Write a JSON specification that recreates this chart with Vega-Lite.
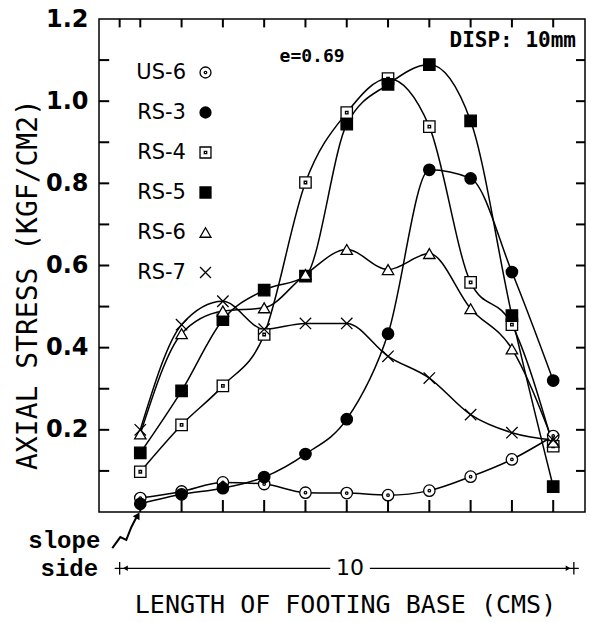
{
  "$schema": "https://vega.github.io/schema/vega-lite/v6.json",
  "width": 486,
  "height": 493,
  "autosize": "none",
  "padding": {"left": 99, "top": 19, "right": 6, "bottom": 110},
  "background": "white",
  "config": {
    "view": {"stroke": "black", "strokeWidth": 1.5},
    "axis": {"grid": false, "domain": false, "ticks": false}
  },
  "datasets": {
    "stress": [
      {"series": "US-6", "x": 0, "y": 0.034}, {"series": "US-6", "x": 1, "y": 0.05}, {"series": "US-6", "x": 2, "y": 0.072}, {"series": "US-6", "x": 3, "y": 0.068}, {"series": "US-6", "x": 4, "y": 0.047}, {"series": "US-6", "x": 5, "y": 0.046}, {"series": "US-6", "x": 6, "y": 0.041}, {"series": "US-6", "x": 7, "y": 0.052}, {"series": "US-6", "x": 8, "y": 0.086}, {"series": "US-6", "x": 9, "y": 0.128}, {"series": "US-6", "x": 10, "y": 0.185},
      {"series": "RS-3", "x": 0, "y": 0.02}, {"series": "RS-3", "x": 1, "y": 0.043}, {"series": "RS-3", "x": 2, "y": 0.058}, {"series": "RS-3", "x": 3, "y": 0.085}, {"series": "RS-3", "x": 4, "y": 0.141}, {"series": "RS-3", "x": 5, "y": 0.226}, {"series": "RS-3", "x": 6, "y": 0.434}, {"series": "RS-3", "x": 7, "y": 0.833}, {"series": "RS-3", "x": 8, "y": 0.812}, {"series": "RS-3", "x": 9, "y": 0.584}, {"series": "RS-3", "x": 10, "y": 0.32},
      {"series": "RS-4", "x": 0, "y": 0.098}, {"series": "RS-4", "x": 1, "y": 0.212}, {"series": "RS-4", "x": 2, "y": 0.307}, {"series": "RS-4", "x": 3, "y": 0.432}, {"series": "RS-4", "x": 4, "y": 0.802}, {"series": "RS-4", "x": 5, "y": 0.972}, {"series": "RS-4", "x": 6, "y": 1.055}, {"series": "RS-4", "x": 7, "y": 0.938}, {"series": "RS-4", "x": 8, "y": 0.559}, {"series": "RS-4", "x": 9, "y": 0.456}, {"series": "RS-4", "x": 10, "y": 0.16},
      {"series": "RS-5", "x": 0, "y": 0.144}, {"series": "RS-5", "x": 1, "y": 0.295}, {"series": "RS-5", "x": 2, "y": 0.468}, {"series": "RS-5", "x": 3, "y": 0.54}, {"series": "RS-5", "x": 4, "y": 0.574}, {"series": "RS-5", "x": 5, "y": 0.944}, {"series": "RS-5", "x": 6, "y": 1.041}, {"series": "RS-5", "x": 7, "y": 1.089}, {"series": "RS-5", "x": 8, "y": 0.952}, {"series": "RS-5", "x": 9, "y": 0.478}, {"series": "RS-5", "x": 10, "y": 0.062},
      {"series": "RS-6", "x": 0, "y": 0.19}, {"series": "RS-6", "x": 1, "y": 0.434}, {"series": "RS-6", "x": 2, "y": 0.489}, {"series": "RS-6", "x": 3, "y": 0.497}, {"series": "RS-6", "x": 4, "y": 0.578}, {"series": "RS-6", "x": 5, "y": 0.639}, {"series": "RS-6", "x": 6, "y": 0.59}, {"series": "RS-6", "x": 7, "y": 0.629}, {"series": "RS-6", "x": 8, "y": 0.495}, {"series": "RS-6", "x": 9, "y": 0.397}, {"series": "RS-6", "x": 10, "y": 0.17},
      {"series": "RS-7", "x": 0, "y": 0.2}, {"series": "RS-7", "x": 1, "y": 0.456}, {"series": "RS-7", "x": 2, "y": 0.513}, {"series": "RS-7", "x": 3, "y": 0.445}, {"series": "RS-7", "x": 4, "y": 0.459}, {"series": "RS-7", "x": 5, "y": 0.459}, {"series": "RS-7", "x": 6, "y": 0.379}, {"series": "RS-7", "x": 7, "y": 0.326}, {"series": "RS-7", "x": 8, "y": 0.237}, {"series": "RS-7", "x": 9, "y": 0.193}, {"series": "RS-7", "x": 10, "y": 0.175}
    ]
  },
  "resolve": {"axis": {"x": "independent", "y": "independent"}},
  "layer": [
    {
      "data": {"name": "stress"},
      "mark": {"type": "line", "interpolate": "monotone", "color": "black", "strokeWidth": 1.5},
      "encoding": {
        "x": {"field": "x", "type": "quantitative", "scale": {"domain": [-1, 10.77], "nice": false, "zero": false},
          "axis": {"orient": "bottom", "labels": false, "values": [],
            "title": "LENGTH OF FOOTING BASE (CMS)", "titleFont": "DejaVu Sans Mono", "titleFontSize": 25, "titleFontWeight": "normal",
            "titleColor": "black", "titleBaseline": "middle", "titleY": 92, "titleX": 246}},
        "y": {"field": "y", "type": "quantitative", "scale": {"domain": [0, 1.2], "nice": false, "zero": false},
          "axis": {"orient": "left", "values": [0.2,0.4,0.6,0.8,1.0,1.2], "format": ".1f",
            "labelFont": "DejaVu Sans", "labelFontSize": 24, "labelFontWeight": "bold", "labelColor": "black", "labelPadding": 11,
            "title": "AXIAL STRESS (KGF/CM2)", "titleFont": "DejaVu Sans Mono", "titleFontSize": 28, "titleFontWeight": "normal",
            "titleColor": "black", "titleX": -71, "titleY": 265, "titleAngle": 270, "titleBaseline": "middle", "titleAlign": "center"}},
        "detail": {"field": "series"}
      }
    },
    {
      "data": {"name": "stress"},
      "mark": {"type": "point", "filled": true, "strokeWidth": 1.3, "size": 130, "opacity": 1},
      "encoding": {
        "x": {"field": "x", "type": "quantitative", "axis": null},
        "y": {"field": "y", "type": "quantitative", "axis": null},
        "shape": {"field": "series", "type": "nominal",
          "scale": {"domain": ["US-6","RS-3","RS-4","RS-5","RS-6","RS-7"],
            "range": ["M-1,0A1,1,0,1,1,1,0A1,1,0,1,1,-1,0Z M-0.22,0A0.22,0.22,0,1,1,0.22,0A0.22,0.22,0,1,1,-0.22,0Z", "circle", "M-1,-1H1V1H-1Z M-0.22,-0.22H0.22V0.22H-0.22Z", "square", "triangle-up", "M-1,-1L1,1M-1,1L1,-1"]},
          "legend": {"title": null, "orient": "none", "legendX": 96, "legendY": 43, "labelAlign": "right", "labelOffset": -30,
            "labelFont": "DejaVu Sans", "labelFontSize": 21, "labelColor": "black", "rowPadding": 18, "symbolSize": 120, "symbolStrokeWidth": 1.3}},
        "fill": {"field": "series", "type": "nominal",
          "scale": {"domain": ["US-6","RS-3","RS-4","RS-5","RS-6","RS-7"], "range": ["white","black","white","black","white","white"]},
          "legend": {"title": null, "orient": "none", "legendX": 96, "legendY": 43, "labelAlign": "right", "labelOffset": -30,
            "labelFont": "DejaVu Sans", "labelFontSize": 21, "labelColor": "black", "rowPadding": 18, "symbolSize": 120, "symbolStrokeWidth": 1.3}},
        "stroke": {"field": "series", "type": "nominal",
          "scale": {"domain": ["US-6","RS-3","RS-4","RS-5","RS-6","RS-7"], "range": ["black","black","black","black","black","black"]},
          "legend": {"title": null, "orient": "none", "legendX": 96, "legendY": 43, "labelAlign": "right", "labelOffset": -30,
            "labelFont": "DejaVu Sans", "labelFontSize": 21, "labelColor": "black", "rowPadding": 18, "symbolSize": 120, "symbolStrokeWidth": 1.3}}
      }
    },
    {
      "data": {"values": [{"label": "e=0.69", "x": 4.16, "y": 1.107}]},
      "mark": {"type": "text", "font": "DejaVu Sans Mono", "fontSize": 18, "fontWeight": "bold", "color": "black", "baseline": "middle", "align": "center"},
      "encoding": {"x": {"field": "x", "type": "quantitative", "axis": null}, "y": {"field": "y", "type": "quantitative", "axis": null}, "text": {"field": "label"}}
    },
    {
      "data": {"values": [{"label": "DISP: 10mm", "x": 9.02, "y": 1.146}]},
      "mark": {"type": "text", "font": "DejaVu Sans Mono", "fontSize": 21, "fontWeight": "bold", "color": "black", "baseline": "middle", "align": "center"},
      "encoding": {"x": {"field": "x", "type": "quantitative", "axis": null}, "y": {"field": "y", "type": "quantitative", "axis": null}, "text": {"field": "label"}}
    },
    {
      "data": {"values": [{"label": "slope", "x": -1.84, "y": -0.071}, {"label": "side", "x": -1.72, "y": -0.139}]},
      "mark": {"type": "text", "font": "Liberation Mono", "fontSize": 24, "fontWeight": "bold", "color": "black", "baseline": "middle", "align": "center"},
      "encoding": {"x": {"field": "x", "type": "quantitative", "axis": null}, "y": {"field": "y", "type": "quantitative", "axis": null}, "text": {"field": "label"}}
    },
    {
      "data": {"values": [{"label": "10", "x": 5.08, "y": -0.137}]},
      "mark": {"type": "text", "font": "DejaVu Sans", "fontSize": 22, "color": "black", "baseline": "middle", "align": "center"},
      "encoding": {"x": {"field": "x", "type": "quantitative", "axis": null}, "y": {"field": "y", "type": "quantitative", "axis": null}, "text": {"field": "label"}}
    },
    {
      "data": {"values": [{"x": -0.62, "x2": 4.6, "y": -0.137}, {"x": 5.56, "x2": 10.62, "y": -0.137}]},
      "mark": {"type": "rule", "color": "black", "strokeWidth": 1.3},
      "encoding": {"x": {"field": "x", "type": "quantitative", "axis": null}, "x2": {"field": "x2"}, "y": {"field": "y", "type": "quantitative", "axis": null}}
    },
    {
      "data": {"values": [{"x": -0.5, "y": -0.137}, {"x": 10.5, "y": -0.137}]},
      "mark": {"type": "point", "shape": "M0,-1L0,1", "filled": false, "stroke": "black", "strokeWidth": 1.3, "size": 160, "opacity": 1},
      "encoding": {"x": {"field": "x", "type": "quantitative", "axis": null}, "y": {"field": "y", "type": "quantitative", "axis": null}}
    },
    {
      "data": {"values": [{"x": -0.36, "y": -0.137}]},
      "mark": {"type": "point", "shape": "triangle-left", "filled": true, "color": "black", "size": 30, "opacity": 1},
      "encoding": {"x": {"field": "x", "type": "quantitative", "axis": null}, "y": {"field": "y", "type": "quantitative", "axis": null}}
    },
    {
      "data": {"values": [{"x": 10.36, "y": -0.137}]},
      "mark": {"type": "point", "shape": "triangle-right", "filled": true, "color": "black", "size": 30, "opacity": 1},
      "encoding": {"x": {"field": "x", "type": "quantitative", "axis": null}, "y": {"field": "y", "type": "quantitative", "axis": null}}
    },
    {
      "data": {"values": [{"i": 0, "x": -0.678, "y": -0.088}, {"i": 1, "x": -0.484, "y": -0.061}, {"i": 2, "x": -0.339, "y": -0.068}, {"i": 3, "x": -0.218, "y": -0.037}, {"i": 4, "x": -0.1, "y": -0.014}]},
      "mark": {"type": "line", "color": "black", "strokeWidth": 2},
      "encoding": {"x": {"field": "x", "type": "quantitative", "axis": null}, "y": {"field": "y", "type": "quantitative", "axis": null}, "order": {"field": "i"}}
    },
    {
      "data": {"values": [{"x": -0.06, "y": -0.008}]},
      "mark": {"type": "point", "shape": "triangle-up", "filled": true, "color": "black", "size": 60, "angle": 30, "opacity": 1},
      "encoding": {"x": {"field": "x", "type": "quantitative", "axis": null}, "y": {"field": "y", "type": "quantitative", "axis": null}}
    },
    {
      "data": {"values": [
        {"pos": 0}, {"pos": 1}, {"pos": 2}, {"pos": 3}, {"pos": 4}, {"pos": 5}, {"pos": 6}, {"pos": 7}, {"pos": 8}, {"pos": 9}, {"pos": 10}
      ]},
      "mark": {"type": "point", "shape": "M0,0L0,-2", "filled": false, "stroke": "black", "strokeWidth": 2, "size": 144, "opacity": 1},
      "encoding": {"x": {"field": "pos", "type": "quantitative", "axis": null}, "y": {"datum": 0, "type": "quantitative", "axis": null}}
    },
    {
      "data": {"values": [
        {"pos": -0.5}, {"pos": 0}, {"pos": 1}, {"pos": 2}, {"pos": 3}, {"pos": 4}, {"pos": 5}, {"pos": 6}, {"pos": 7}, {"pos": 8}, {"pos": 9}, {"pos": 10}
      ]},
      "mark": {"type": "point", "shape": "M0,0L0,1.4", "filled": false, "stroke": "black", "strokeWidth": 2, "size": 144, "opacity": 1},
      "encoding": {"x": {"field": "pos", "type": "quantitative", "axis": null}, "y": {"datum": 1.2, "type": "quantitative", "axis": null}}
    },
    {
      "data": {"values": [
        {"val": 0.1}, {"val": 0.2}, {"val": 0.3}, {"val": 0.4}, {"val": 0.5}, {"val": 0.6}, {"val": 0.7}, {"val": 0.8}, {"val": 0.9}, {"val": 1.0}, {"val": 1.1}
      ]},
      "mark": {"type": "point", "shape": "M0,0L1.7,0", "filled": false, "stroke": "black", "strokeWidth": 2, "size": 144, "opacity": 1},
      "encoding": {"y": {"field": "val", "type": "quantitative", "axis": null}, "x": {"datum": -1, "type": "quantitative", "axis": null}}
    },
    {
      "data": {"values": [
        {"val": 0.1}, {"val": 0.2}, {"val": 0.3}, {"val": 0.4}, {"val": 0.5}, {"val": 0.6}, {"val": 0.7}, {"val": 0.8}, {"val": 0.9}, {"val": 1.0}, {"val": 1.1}
      ]},
      "mark": {"type": "point", "shape": "M0,0L-1.5,0", "filled": false, "stroke": "black", "strokeWidth": 2, "size": 144, "opacity": 1},
      "encoding": {"y": {"field": "val", "type": "quantitative", "axis": null}, "x": {"datum": 10.77, "type": "quantitative", "axis": null}}
    }
  ]
}
